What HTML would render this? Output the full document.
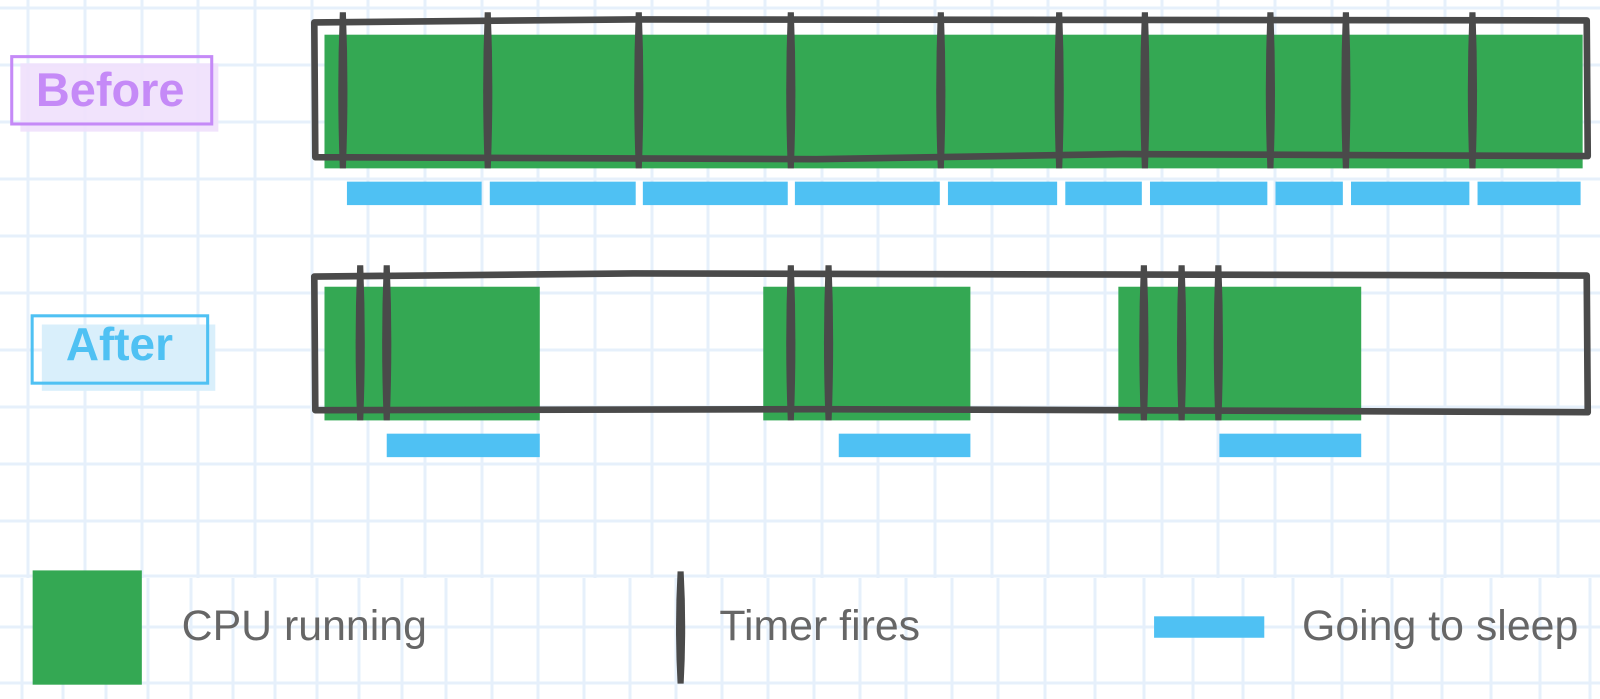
<!DOCTYPE html>
<html><head><meta charset="utf-8"><style>
html,body{margin:0;padding:0;background:#fff;}
svg{display:block;}
</style></head><body>
<svg width="1600" height="699" viewBox="0 0 1600 699" xmlns="http://www.w3.org/2000/svg">
<rect width="1600" height="699" fill="#fff"/>
<g stroke="#e6f0fb" stroke-width="3">
<path d="M28 0V578M85 0V578M142 0V578M198 0V578M255 0V578M312 0V578M368 0V578M425 0V578M482 0V578M538 0V578M595 0V578M652 0V578M708 0V578M765 0V578M822 0V578M878 0V578M935 0V578M992 0V578M1048 0V578M1105 0V578M1162 0V578M1218 0V578M1275 0V578M1332 0V578M1388 0V578M1445 0V578M1502 0V578M1558 0V578"/>
<path d="M0 8H1600M0 65H1600M0 122H1600M0 179H1600M0 236H1600M0 293H1600M0 350H1600M0 407H1600M0 464H1600M0 521H1600M0 576H1600M0 627H1600M0 683H1600"/>
<path d="M22 578V699M63 578V699M106 578V699M148 578V699M191 578V699M233 578V699M275 578V699M317 578V699M359 578V699M402 578V699M446 578V699M492 578V699M538 578V699M584 578V699M630 578V699M676 578V699M722 578V699M768 578V699M814 578V699M860 578V699M906 578V699M952 578V699M998 578V699M1045 578V699M1095 578V699M1144 578V699M1193 578V699M1243 578V699M1293 578V699M1342 578V699M1392 578V699M1442 578V699M1491 578V699M1540 578V699M1590 578V699"/>
</g>
<g transform="scale(1.0204)">
<rect x="20" y="62" width="194" height="67" fill="#efe0fc" opacity="0.9"/>
<rect x="11.5" y="55.5" width="196" height="66" fill="none" stroke="#c58af7" stroke-width="3"/>
<text x="108" y="104" text-anchor="middle" font-family="Liberation Sans, sans-serif" font-weight="bold" font-size="46" fill="#c58af7">Before</text>

<rect x="41" y="318" width="170" height="65" fill="#d9effb"/>
<rect x="31.5" y="309.5" width="172" height="66" fill="none" stroke="#4fc1f3" stroke-width="3"/>
<text x="117" y="353" text-anchor="middle" font-family="Liberation Sans, sans-serif" font-weight="bold" font-size="45" fill="#4fc1f3">After</text>

<rect x="318" y="34" width="1233" height="131" fill="#34a853"/>
<path d="M308 22 L620 19 L1555 20 L1556 153 L1100 151 L800 156 L309 154 Z" fill="none" stroke="#4a4a4a" stroke-width="6.5" stroke-linejoin="round"/>
<g fill="#4a4a4a">
<path d="M333 12h6q3 76 0 153h-6q-3-76 0-153z"/>
<path d="M475 12h6q3 76 0 153h-6q-3-76 0-153z"/>
<path d="M623 12h6q3 76 0 153h-6q-3-76 0-153z"/>
<path d="M772 12h6q3 76 0 153h-6q-3-76 0-153z"/>
<path d="M919 12h6q3 76 0 153h-6q-3-76 0-153z"/>
<path d="M1035 12h6q3 76 0 153h-6q-3-76 0-153z"/>
<path d="M1119 12h6q3 76 0 153h-6q-3-76 0-153z"/>
<path d="M1242 12h6q3 76 0 153h-6q-3-76 0-153z"/>
<path d="M1316 12h6q3 76 0 153h-6q-3-76 0-153z"/>
<path d="M1440 12h6q3 76 0 153h-6q-3-76 0-153z"/>
</g>
<g fill="#4fc1f3">
<rect x="340" y="178" width="132" height="23"/>
<rect x="480" y="178" width="143" height="23"/>
<rect x="630" y="178" width="142" height="23"/>
<rect x="779" y="178" width="142" height="23"/>
<rect x="929" y="178" width="107" height="23"/>
<rect x="1044" y="178" width="75" height="23"/>
<rect x="1127" y="178" width="115" height="23"/>
<rect x="1250" y="178" width="66" height="23"/>
<rect x="1324" y="178" width="116" height="23"/>
<rect x="1448" y="178" width="101" height="23"/>
</g>

<g fill="#34a853">
<rect x="318" y="281" width="211" height="131"/>
<rect x="748" y="281" width="203" height="131"/>
<rect x="1096" y="281" width="238" height="131"/>
</g>
<path d="M308 271 L620 268 L1555 270 L1556 404 L1100 402 L800 401 L309 402 Z" fill="none" stroke="#4a4a4a" stroke-width="6.5" stroke-linejoin="round"/>
<g fill="#4a4a4a">
<path d="M350 260h6q3 76 0 152h-6q-3-76 0-152z"/>
<path d="M376 260h6q3 76 0 152h-6q-3-76 0-152z"/>
<path d="M772 260h6q3 76 0 152h-6q-3-76 0-152z"/>
<path d="M809 260h6q3 76 0 152h-6q-3-76 0-152z"/>
<path d="M1118 260h6q3 76 0 152h-6q-3-76 0-152z"/>
<path d="M1155 260h6q3 76 0 152h-6q-3-76 0-152z"/>
<path d="M1191 260h6q3 76 0 152h-6q-3-76 0-152z"/>
</g>
<g fill="#4fc1f3">
<rect x="379" y="425" width="150" height="23"/>
<rect x="822" y="425" width="129" height="23"/>
<rect x="1195" y="425" width="139" height="23"/>
</g>

<rect x="32" y="559" width="107" height="112" fill="#34a853"/>
<text x="178" y="627" font-family="Liberation Sans, sans-serif" font-size="42" fill="#666">CPU running</text>
<path d="M664 560h6q3 55 0 110h-6q-3-55 0-110z" fill="#4a4a4a"/>
<text x="705" y="627" font-family="Liberation Sans, sans-serif" font-size="42" fill="#666">Timer fires</text>
<rect x="1131" y="604" width="108" height="21" fill="#4fc1f3"/>
<text x="1276" y="627" font-family="Liberation Sans, sans-serif" font-size="42" fill="#666">Going to sleep</text>
</g>
</svg>
</body></html>
